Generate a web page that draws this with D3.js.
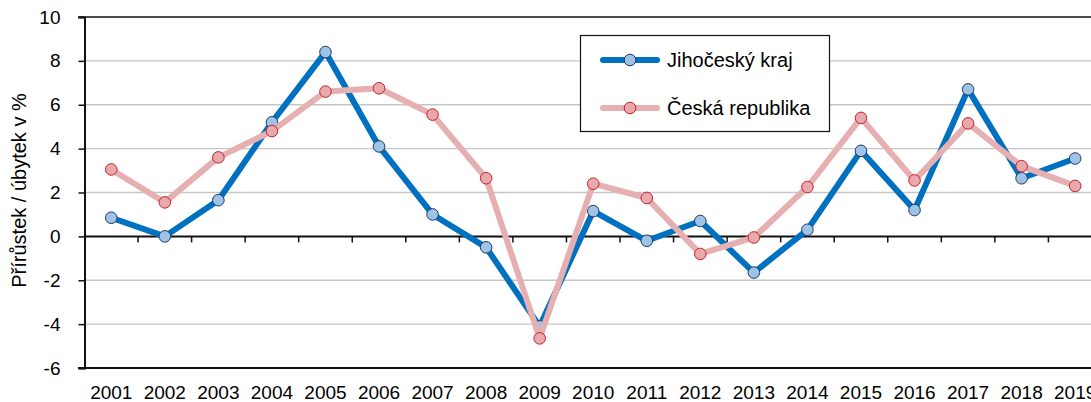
<!DOCTYPE html>
<html>
<head>
<meta charset="utf-8">
<script src="https://cdn.jsdelivr.net/npm/d3@7"></script>
<style>
  html, body { margin: 0; padding: 0; background: #fff; }
  svg { display: block; font-family: "Liberation Sans", Arial, sans-serif; }
</style>
</head>
<body>
<svg id="chart" width="1091" height="402"></svg>
<script>
const years = ["2001","2002","2003","2004","2005","2006","2007","2008","2009","2010",
               "2011","2012","2013","2014","2015","2016","2017","2018","2019"];
const jihocesky = [0.85, 0.0, 1.65, 5.2, 8.4, 4.1, 1.0, -0.5, -4.1, 1.15,
                   -0.2, 0.7, -1.65, 0.3, 3.9, 1.2, 6.7, 2.65, 3.55];
const ceska = [3.05, 1.55, 3.6, 4.8, 6.6, 6.75, 5.55, 2.65, -4.65, 2.4,
               1.75, -0.8, -0.05, 2.25, 5.4, 2.55, 5.15, 3.2, 2.3];
const yTicks = [-6, -4, -2, 0, 2, 4, 6, 8, 10];
const seriesNames = ["Jihočeský kraj", "Česká republika"];
const yTitle = "Přírůstek / úbytek v %";

(function () {
const svg = d3.select("#chart");
const mLeft = 84.5, mTop = 17, mBottom = 368;
const band = 53.55;

const x = d3.scaleBand().domain(years).range([mLeft, mLeft + band * years.length]).paddingInner(0).paddingOuter(0);
const y = d3.scaleLinear().domain([-6, 10]).range([mBottom, mTop]);
const cx = d => x(d) + x.bandwidth() / 2;

// gridlines
svg.append("g").selectAll("line")
  .data(yTicks.filter(t => t !== 0 && t !== -6 && t !== 10))
  .join("line")
  .attr("x1", mLeft).attr("x2", 1091)
  .attr("y1", d => y(d)).attr("y2", d => y(d))
  .attr("stroke", "#c6c6c6").attr("stroke-width", 1.3);

// top line
svg.append("line").attr("x1", 78).attr("x2", 1091)
  .attr("y1", y(10)).attr("y2", y(10)).attr("stroke", "#111").attr("stroke-width", 1.5);

// left axis
const yAxis = d3.axisLeft(y).tickValues(yTicks).tickSize(6).tickPadding(6).tickFormat(d => String(d));
const gy = svg.append("g").attr("transform", `translate(${mLeft},0)`).call(yAxis);
gy.select(".domain").attr("stroke", "#111").attr("stroke-width", 2);
gy.selectAll(".tick line").attr("stroke", "#111").attr("stroke-width", 1.5);
gy.selectAll(".tick text").attr("font-size", 19).attr("fill", "#000")
  .attr("font-family", "'Liberation Sans', Arial, sans-serif").attr("x", -24);

// bottom axis line at -6
svg.append("line").attr("x1", 78).attr("x2", 1091)
  .attr("y1", y(-6)).attr("y2", y(-6)).attr("stroke", "#111").attr("stroke-width", 2);

// x labels
svg.append("g").selectAll("text").data(years).join("text")
  .attr("x", d => cx(d)).attr("y", 399)
  .attr("text-anchor", "middle").attr("font-size", 19).attr("fill", "#000")
  .text(d => d);

// zero line with ticks at band boundaries
svg.append("line").attr("x1", mLeft).attr("x2", 1091)
  .attr("y1", y(0)).attr("y2", y(0)).attr("stroke", "#111").attr("stroke-width", 2);
svg.append("g").selectAll("line").data(years.slice(1)).join("line")
  .attr("x1", d => x(d)).attr("x2", d => x(d))
  .attr("y1", y(0)).attr("y2", y(0) + 6)
  .attr("stroke", "#111").attr("stroke-width", 1.5);

// y title
svg.append("text")
  .attr("transform", `translate(26,${(mTop + mBottom) / 2 - 2}) rotate(-90)`)
  .attr("text-anchor", "middle").attr("font-size", 20).attr("fill", "#000")
  .text(yTitle);

const line = d3.line().x((d, i) => cx(years[i])).y(d => y(d)).curve(d3.curveLinear);

const styles = [
  { data: jihocesky, line: "#0070C0", fill: "#9DC3E6", stroke: "#1F3864" },
  { data: ceska, line: "#E6B0B2", fill: "#E8A9AD", stroke: "#C8202C" }
];

styles.forEach(s => {
  svg.append("path").datum(s.data).attr("d", line)
    .attr("fill", "none").attr("stroke", s.line).attr("stroke-width", 6)
    .attr("stroke-linejoin", "round");
  svg.append("g").selectAll("circle").data(s.data).join("circle")
    .attr("cx", (d, i) => cx(years[i])).attr("cy", d => y(d)).attr("r", 5.8)
    .attr("fill", s.fill).attr("stroke", s.stroke).attr("stroke-width", 1);
});

// legend
const lg = svg.append("g");
lg.append("rect").attr("x", 580.5).attr("y", 35.5).attr("width", 249).attr("height", 96)
  .attr("fill", "#fff").attr("stroke", "#111").attr("stroke-width", 1.2);
styles.forEach((s, i) => {
  const ly = 60 + i * 48;
  lg.append("line").attr("x1", 603).attr("x2", 657).attr("y1", ly).attr("y2", ly)
    .attr("stroke", s.line).attr("stroke-width", 6).attr("stroke-linecap", "round");
  lg.append("circle").attr("cx", 630).attr("cy", ly).attr("r", 5.8)
    .attr("fill", s.fill).attr("stroke", s.stroke).attr("stroke-width", 1);
  lg.append("text").attr("x", 667).attr("y", ly + 7).attr("font-size", 20).attr("fill", "#000")
    .text(seriesNames[i]);
});
})();
</script>
</body>
</html>
